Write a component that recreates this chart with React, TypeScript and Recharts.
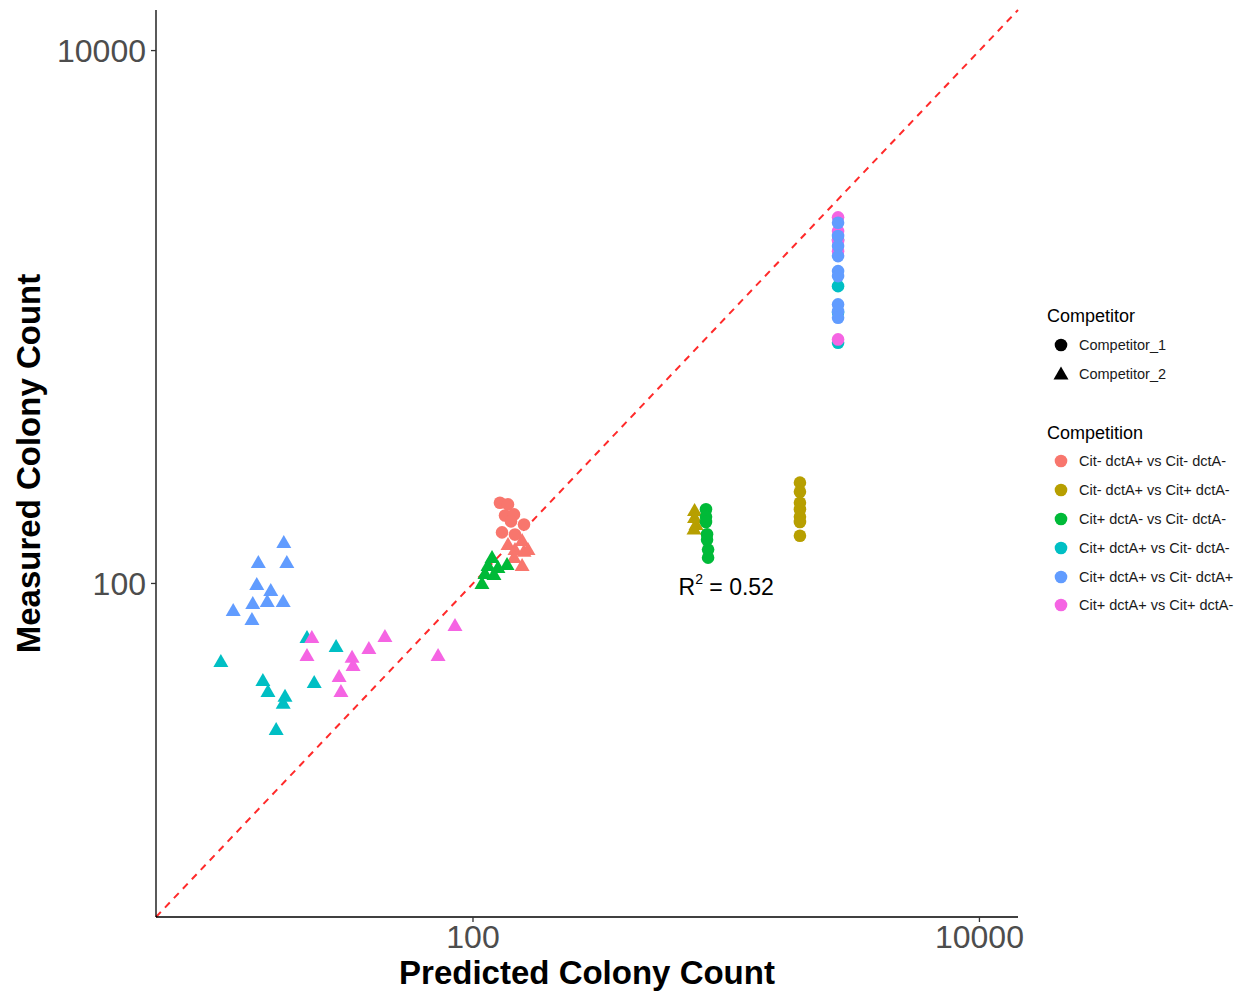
import { ScatterChart, Scatter, XAxis, YAxis, ReferenceLine, ReferenceDot, Legend } from 'recharts'

const FONT = '"Liberation Sans", Arial, Helvetica, sans-serif'

const competitions = [
  'Cit- dctA+ vs Cit- dctA-',
  'Cit- dctA+ vs Cit+ dctA-',
  'Cit+ dctA- vs Cit- dctA-',
  'Cit+ dctA+ vs Cit- dctA-',
  'Cit+ dctA+ vs Cit- dctA+',
  'Cit+ dctA+ vs Cit+ dctA-',
]
const competitionColors = ['#F8766D', '#B79F00', '#00BA38', '#00BFC4', '#619CFF', '#F564E3']
const competitors = ['Competitor_1', 'Competitor_2']

const axisTicks = [100, 10000]
const axisDomain = [5.6, 14200]
const identityEnds = [5.6, 14200]
const rSquared = 0.52

// [predicted, measured] pairs, Competitor_1 (circles)
const c1SalmonPts = [[127.8, 201], [137.5, 198], [133.8, 180], [145.2, 181.6], [141.3, 171], [130.2, 155.5], [159, 166.5], [146.5, 152.6]]
const c1GoldPts = [[1955, 239], [1955, 221], [1955, 201], [1955, 190], [1955, 178], [1955, 170], [1955, 151]]
const c1GreenPts = [[832, 190], [832, 178], [832, 170], [840, 153], [840, 146], [848, 134], [848, 125]]
const c1TealPts = [[2765, 1950], [2765, 1306], [2765, 1040], [2765, 801]]
const c1BluePts = [[2765, 2259], [2765, 2013], [2765, 1846], [2765, 1693], [2765, 1487], [2765, 1424], [2765, 1115], [2765, 1052], [2765, 994]]
const c1PinkPts = [[2765, 2366], [2765, 2101], [2765, 1928], [2765, 1767], [2765, 824]]

// Competitor_2 (triangles)
const c2SalmonPts = [[137.5, 140], [146.5, 134], [156.3, 145], [159, 132], [145.2, 125.2], [156.3, 116.8], [164.9, 134]]
const c2GoldPts = [[750, 188], [750, 176.8], [760, 166.5], [746, 160]]
const c2GreenPts = [[108.5, 100], [111.5, 109], [114.6, 116.8], [118.9, 125.2], [125.5, 114.8], [136.3, 117.8], [121, 108]]
const c2TealPts = [[22.1, 62.7], [28.8, 58], [10.1, 51], [14.8, 43.2], [15.5, 39.3], [23.6, 42.5], [18.1, 37.7], [17.8, 35.5], [16.7, 28.3]]
const c2BluePts = [[17.9, 142.6], [14.2, 119.9], [18.4, 119.9], [14.0, 99.1], [15.9, 94.1], [13.5, 84.1], [15.4, 85.6], [17.8, 85.6], [11.3, 79.2], [13.4, 73.3]]
const c2PinkPts = [[23.1, 62.7], [22.1, 53.7], [33.3, 52.8], [33.6, 49.2], [38.8, 57], [44.9, 63.2], [29.6, 44.8], [30.1, 39.3], [72.8, 53.7], [84.9, 69.6]]

const toRows = (pts: number[][]) => pts.map(([x, y]) => ({ x, y }))

const circleShape = (props: any) => (
  <circle cx={props.cx} cy={props.cy} r={6.3} fill={props.fill} />
)

const triangleShape = (props: any) => {
  const { cx, cy, fill } = props
  return (
    <polygon
      points={`${cx},${cy - 7.5} ${cx - 7.5},${cy + 5.5} ${cx + 7.5},${cy + 5.5}`}
      fill={fill}
    />
  )
}

// draw order: triangles first, circles on top; pink before blue
const order = [0, 1, 2, 3, 5, 4]
const triangleSets = [c2SalmonPts, c2GoldPts, c2GreenPts, c2TealPts, c2BluePts, c2PinkPts]
const circleSets = [c1SalmonPts, c1GoldPts, c1GreenPts, c1TealPts, c1BluePts, c1PinkPts]

function LegendBox() {
  const title = { height: 28, lineHeight: '28px', fontSize: 18, paddingLeft: 7, color: '#000' }
  const row = (h: number) => ({
    height: h,
    display: 'flex',
    alignItems: 'center',
    fontSize: 14.5,
    color: '#1a1a1a',
  })
  return (
    <div style={{ fontFamily: FONT, width: 205 }}>
      <div style={title}>Competitor</div>
      {competitors.map((c, i) => (
        <div key={c} style={row(29)}>
          <svg width={42} height={16} style={{ flex: 'none' }}>
            {i === 0 ? (
              <circle cx={21} cy={8} r={6.3} fill="#000" />
            ) : (
              <polygon points="21,0.5 13.5,13.5 28.5,13.5" fill="#000" />
            )}
          </svg>
          <span style={{ marginLeft: -3 }}>{c}</span>
        </div>
      ))}
      <div style={{ height: 31 }} />
      <div style={title}>Competition</div>
      {competitions.map((c, i) => (
        <div key={c} style={row(28.8)}>
          <svg width={42} height={16} style={{ flex: 'none' }}>
            <circle cx={21} cy={8} r={6.3} fill={competitionColors[i]} />
          </svg>
          <span style={{ marginLeft: -3 }}>{c}</span>
        </div>
      ))}
    </div>
  )
}

export default function App() {
  const tickStyle = { fill: '#4D4D4D', fontSize: 32, fontFamily: FONT }
  return (
    <div style={{ position: 'absolute', left: 0, top: 0, background: '#fff' }}>
      <ScatterChart width={1245} height={993} margin={{ top: 10, right: 227, bottom: 0, left: 0 }}>
        <XAxis
          dataKey="x"
          type="number"
          scale="log"
          domain={axisDomain}
          allowDataOverflow
          ticks={axisTicks}
          tickFormatter={(v: number) => String(v)}
          height={76}
          tick={tickStyle}
          tickSize={5}
          tickMargin={3}
          axisLine={{ stroke: '#000', strokeWidth: 1.3 }}
          tickLine={{ stroke: '#333', strokeWidth: 1.3 }}
          label={{
            content: (p: any) => {
              const vb = p.viewBox
              return (
                <text
                  x={vb.x + vb.width / 2}
                  y={vb.y + 67}
                  textAnchor="middle"
                  fontFamily={FONT}
                  fontWeight="bold"
                  fontSize={33}
                  fill="#000"
                >
                  Predicted Colony Count
                </text>
              )
            },
          }}
        />
        <YAxis
          dataKey="y"
          type="number"
          scale="log"
          domain={axisDomain}
          allowDataOverflow
          ticks={axisTicks}
          tickFormatter={(v: number) => String(v)}
          width={156}
          tick={tickStyle}
          tickSize={5}
          tickMargin={5}
          axisLine={{ stroke: '#000', strokeWidth: 1.3 }}
          tickLine={{ stroke: '#333', strokeWidth: 1.3 }}
          label={{
            content: (p: any) => {
              const vb = p.viewBox
              const cx = vb.x + 40
              const cy = vb.y + vb.height / 2
              return (
                <text
                  x={cx}
                  y={cy}
                  transform={`rotate(-90 ${cx} ${cy})`}
                  textAnchor="middle"
                  fontFamily={FONT}
                  fontWeight="bold"
                  fontSize={33}
                  fill="#000"
                >
                  Measured Colony Count
                </text>
              )
            },
          }}
        />
        <ReferenceLine
          segment={[
            { x: identityEnds[0], y: identityEnds[0] },
            { x: identityEnds[1], y: identityEnds[1] },
          ]}
          stroke="#FF2A2A"
          strokeWidth={2}
          strokeDasharray="7 6"
        />
        {order.map((i) => (
          <Scatter
            key={'t' + i}
            name={competitions[i] + ' ' + competitors[1]}
            data={toRows(triangleSets[i])}
            fill={competitionColors[i]}
            shape={triangleShape}
            isAnimationActive={false}
            legendType="none"
          />
        ))}
        {order.map((i) => (
          <Scatter
            key={'c' + i}
            name={competitions[i] + ' ' + competitors[0]}
            data={toRows(circleSets[i])}
            fill={competitionColors[i]}
            shape={circleShape}
            isAnimationActive={false}
            legendType="none"
          />
        ))}
        <ReferenceDot
          x={1000}
          y={96}
          r={1}
          ifOverflow="visible"
          shape={(p: any) => (
            <text x={p.cx} y={p.cy + 7} textAnchor="middle" fontFamily={FONT} fontSize={23} fill="#000">
              R
              <tspan fontSize={14} dy={-11}>2</tspan>
              <tspan dy={11}>{' = ' + rSquared.toFixed(2)}</tspan>
            </text>
          )}
        />
        <Legend
          layout="vertical"
          align="center"
          verticalAlign="middle"
          wrapperStyle={{ left: 1040, top: 302, width: 205 }}
          content={() => <LegendBox />}
        />
      </ScatterChart>
    </div>
  )
}
